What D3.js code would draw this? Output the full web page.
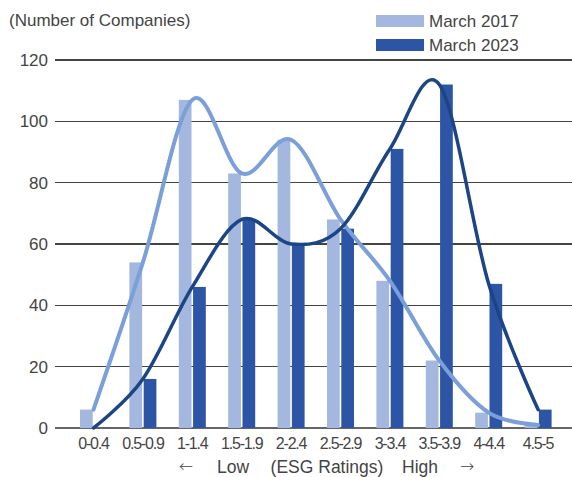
<!DOCTYPE html>
<html><head><meta charset="utf-8">
<script src="https://cdn.jsdelivr.net/npm/d3@7"></script>
<style>
body{margin:0;background:#fff;}
svg{display:block;font-family:"Liberation Sans",Arial,sans-serif;}
</style></head>
<body><div id="chart"></div>
<script>
const categories = ["0-0.4","0.5-0.9","1-1.4","1.5-1.9","2-2.4","2.5-2.9","3-3.4","3.5-3.9","4-4.4","4.5-5"];
const march2017 = [6,54,107,83,94,68,48,22,5,1];
const march2023 = [0,16,46,68,60,65,91,112,47,6];
const seriesNames = ["March 2017","March 2023"];
const yTicks = [0,20,40,60,80,100,120];

const W=572,H=477;
const barColors = ["#a3b7df","#2d55a5"];
const lineColors = ["#7b9fd8","#1c4585"];

const svg = d3.select("#chart").append("svg").attr("width",W).attr("height",H);

const x = d3.scaleBand().domain(categories).range([68.8,562.8]).padding(0);
const xc = c => x(c)+x.bandwidth()/2;
const x1 = d3.scaleBand().domain(seriesNames).range([-13.5,13.5]).paddingInner(0.11);
const y = d3.scaleLinear().domain([0,120]).range([428,60]);

// gridlines
svg.append("g").selectAll("line").data(yTicks).join("line")
  .attr("x1",55).attr("x2",W).attr("y1",d=>y(d)).attr("y2",d=>y(d))
  .attr("stroke",d=>d===0?"#666":"#444").attr("stroke-width",1.1).attr("shape-rendering","crispEdges");

// y tick labels
svg.append("g").selectAll("text").data(yTicks).join("text")
  .attr("x",48).attr("y",d=>y(d)).attr("dy","0.35em").attr("text-anchor","end")
  .attr("font-size",17).attr("fill","#444").text(d=>d);

// bars
const data = [march2017, march2023];
data.forEach((vals,si)=>{
  svg.append("g").selectAll("rect").data(vals).join("rect")
    .attr("x",(d,i)=>xc(categories[i])+x1(seriesNames[si]))
    .attr("width",x1.bandwidth())
    .attr("y",d=>y(d)).attr("height",d=>y(0)-y(d))
    .attr("fill",barColors[si]);
});

// smoothed lines
const line = d3.line().x((d,i)=>xc(categories[i])).y(d=>y(d)).curve(d3.curveCatmullRom.alpha(0));
svg.append("path").attr("d",line(march2017)).attr("fill","none").attr("stroke",lineColors[0]).attr("stroke-width",4).attr("stroke-linecap","round");
svg.append("path").attr("d",line(march2023)).attr("fill","none").attr("stroke",lineColors[1]).attr("stroke-width",3.5).attr("stroke-linecap","round");

// x labels
svg.append("g").selectAll("text").data(categories).join("text")
  .attr("x",d=>xc(d)).attr("y",449).attr("text-anchor","middle")
  .attr("font-size",16).attr("letter-spacing","-1.2px").attr("fill","#444").text(d=>d);

// bottom axis title
const bt = svg.append("g").attr("font-size",17.5).attr("fill","#444");
[["Low",233],["(ESG Ratings)",327],["High",420]].forEach(([t,cx])=>{
  bt.append("text").attr("x",cx).attr("y",473).attr("text-anchor","middle").text(t);
});
[["←",186],["→",467]].forEach(([t,cx])=>{
  bt.append("text").attr("x",cx).attr("y",472).attr("text-anchor","middle")
    .attr("font-family","DejaVu Sans").attr("font-size",17).attr("font-weight",300).text(t);
});

// y title
svg.append("text").attr("x",9).attr("y",26).attr("font-size",17).attr("fill","#444").text("(Number of Companies)");

// legend
seriesNames.forEach((s,i)=>{
  const g = svg.append("g").attr("transform",`translate(376,${15+i*24})`);
  g.append("rect").attr("width",48).attr("height",12).attr("fill",barColors[i]);
  g.append("text").attr("x",53).attr("y",12).attr("font-size",17).attr("fill","#444").text(s);
});
</script></body></html>
